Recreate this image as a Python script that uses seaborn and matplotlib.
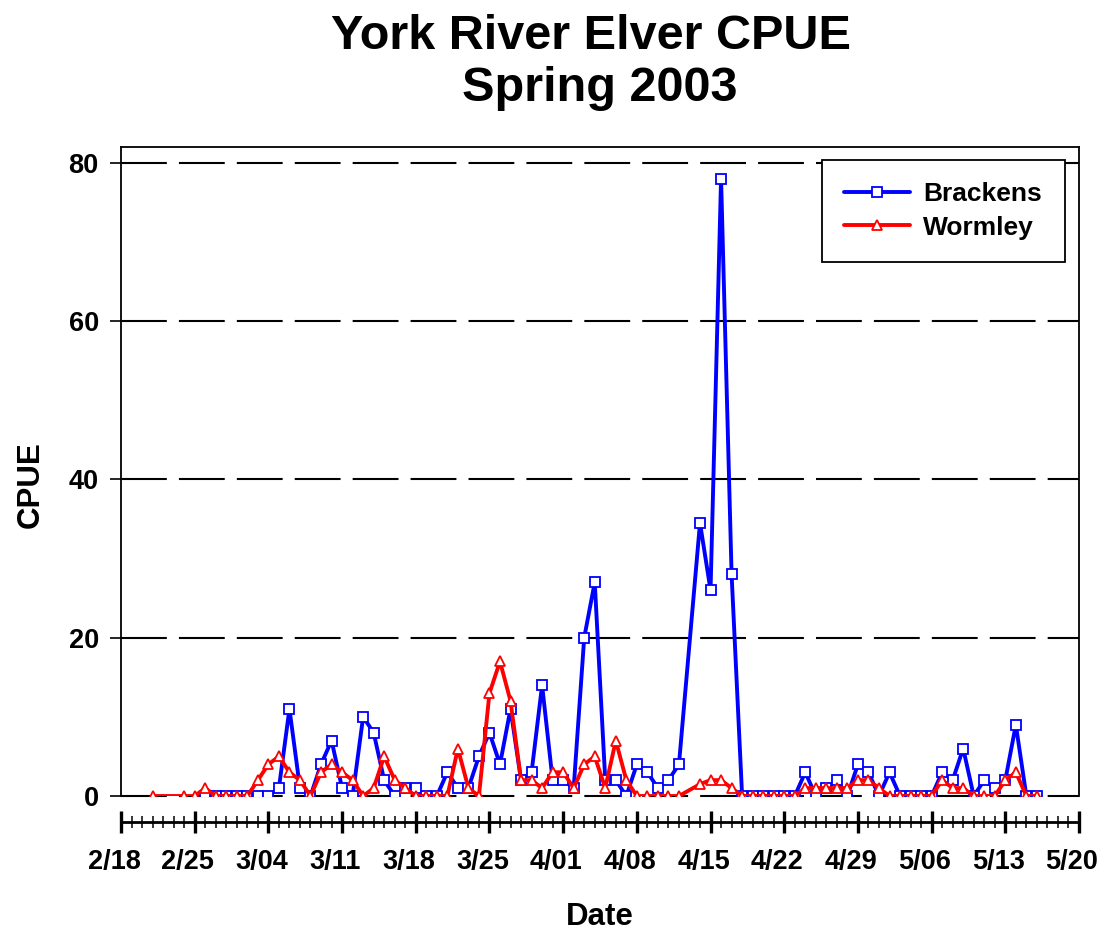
import pandas as pd
import numpy as np
import matplotlib
matplotlib.use("Agg")
import matplotlib.pyplot as plt
import matplotlib.dates as mdates
import matplotlib.transforms as mtransforms
from matplotlib.ticker import FixedLocator, FuncFormatter
import seaborn as sns

sns.set_style("white")
plt.rcParams['font.family'] = ['Liberation Sans', 'DejaVu Sans']
plt.rcParams['font.weight'] = 'bold'
for k in ['text.color', 'axes.labelcolor', 'xtick.color', 'ytick.color']:
    plt.rcParams[k] = 'black'

# sampling dates (no sample on 4/13)
brackens_dates = list(pd.date_range("2003-02-26", "2003-04-12")) + list(pd.date_range("2003-04-14", "2003-05-16"))
wormley_dates = [pd.Timestamp("2003-02-21")] + list(pd.date_range("2003-02-24", "2003-04-12")) + list(pd.date_range("2003-04-14", "2003-05-16"))

# Brackens CPUE
brackens_feb = [0, 0, 0]
brackens_mar = [0, 0, 0, 0, 1, 11, 1, 0, 4, 7, 1, 0, 10, 8, 2, 0, 1, 1, 0, 0, 3, 1, 1, 5, 8, 4, 11, 2, 3, 14, 2]
brackens_apr = [2, 1, 20, 27, 2, 2, 0, 4, 3, 1, 2, 4,
                34.5, 26, 78, 28, 0, 0, 0, 0, 0, 0, 3, 0, 1, 2, 0, 4, 3]
brackens_may = [0, 3, 0, 0, 0, 0, 3, 2, 6, 0, 2, 1, 2, 9, 0, 0]

# Wormley CPUE
wormley_feb = [0, 0, 0, 1, 0, 0]
wormley_mar = [0, 0, 2, 4, 5, 3, 2, 0, 3, 4, 3, 2, 0, 1, 5, 2, 1, 0, 0, 0, 0, 6, 1, 0, 13, 17, 12, 2, 2, 1, 3]
wormley_apr = [3, 1, 4, 5, 1, 7, 2, 0, 0, 0, 0, 0,
               1.5, 2, 2, 1, 0, 0, 0, 0, 0, 0, 1, 1, 1, 1, 1, 2, 2]
wormley_may = [1, 0, 0, 0, 0, 0, 2, 1, 1, 0, 0, 0, 2, 3, 0, 0]

brackens = brackens_feb + brackens_mar + brackens_apr + brackens_may
wormley = wormley_feb + wormley_mar + wormley_apr + wormley_may

tick_dates = pd.date_range("2003-02-18", "2003-05-20", freq="7D")

fig = plt.figure(figsize=(11.02, 9.34), dpi=100)
ax = fig.add_axes([121/1102, 138/934, 958/1102, 649/934])

sns.lineplot(x=brackens_dates, y=brackens, ax=ax, color='#0000ff', linewidth=2.8,
             marker='s', markersize=6.5, markerfacecolor='white', markeredgecolor='#0000ff',
             markeredgewidth=1.3, errorbar=None, label='Brackens', zorder=3)
sns.lineplot(x=wormley_dates, y=wormley, ax=ax, color='#ff0000', linewidth=2.8,
             marker='^', markersize=7, markerfacecolor='white', markeredgecolor='#ff0000',
             markeredgewidth=1.3, errorbar=None, label='Wormley', zorder=4)

ax.set_xlim(tick_dates[0], tick_dates[-1])
ax.set_ylim(0, 82)

# dashed gridlines
dash = (0, (22, 5.8))
for yv in [0, 20, 40, 60, 80]:
    ax.axhline(yv, color='black', linewidth=1.5, linestyle=dash, zorder=1, clip_on=False)

ax.set_yticks([0, 20, 40, 60, 80])
ax.tick_params(axis='y', direction='out', length=8, width=1.2, pad=8, labelsize=19.5, left=True)

ax.xaxis.set_major_locator(FixedLocator(mdates.date2num(tick_dates)))
ax.xaxis.set_minor_locator(mdates.DayLocator())
ax.xaxis.set_major_formatter(FuncFormatter(lambda v, p: f"{mdates.num2date(v).month}/{mdates.num2date(v).day:02d}"))
ax.tick_params(axis='x', which='major', direction='inout', length=16, width=2.4, pad=11, labelsize=19.5, bottom=True)
ax.tick_params(axis='x', which='minor', direction='inout', length=9, width=1.1, bottom=True)

for s in ['left', 'right', 'top']:
    ax.spines[s].set_linewidth(1.3)
    ax.spines[s].set_color('black')
ax.spines['bottom'].set_position(('outward', 19))
ax.spines['bottom'].set_linewidth(2.0)
ax.spines['bottom'].set_color('black')

shift = mtransforms.ScaledTranslation(-7/100, 0, fig.dpi_scale_trans)
for lab in ax.get_xticklabels():
    lab.set_fontweight('bold')
    lab.set_transform(lab.get_transform() + shift)
for lab in ax.get_yticklabels():
    lab.set_fontweight('bold')

ax.set_xlabel('Date', fontsize=22.5, fontweight='bold')
ax.set_ylabel('CPUE', fontsize=22.5, fontweight='bold')
ax.xaxis.set_label_coords(0.5, -0.163)
ax.yaxis.set_label_coords(-0.079, 0.48)

leg = ax.legend(loc='upper right', bbox_to_anchor=(0.985, 0.98), borderaxespad=0,
                fontsize=19, frameon=True, fancybox=False, framealpha=1,
                edgecolor='black', handlelength=2.5, handletextpad=0.5,
                borderpad=0.85, labelspacing=0.35)
leg.get_frame().set_linewidth(1.3)
for t in leg.get_texts():
    t.set_fontweight('bold')

fig.text(591/1102, 1 - 14/934, "York River Elver CPUE", ha='center', va='top',
         fontsize=35, fontweight='bold')
fig.text(600/1102, 1 - 66/934, "Spring 2003", ha='center', va='top',
         fontsize=35, fontweight='bold')

fig.savefig("out.png", dpi=100)
